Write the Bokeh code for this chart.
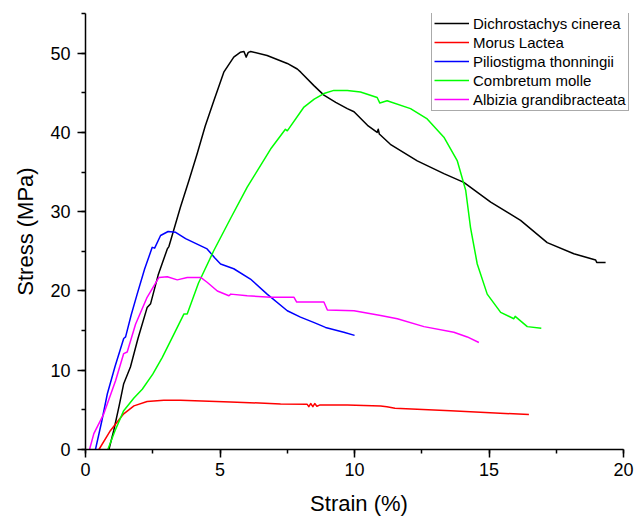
from bokeh.plotting import figure
from bokeh.models import Range1d, SingleIntervalTicker, Legend, LegendItem
from bokeh.embed import file_html
from bokeh.resources import INLINE

# Dichrostachys cinerea (black)
dc_strain = [0.87, 1.05, 1.25, 1.42, 1.67, 1.95, 2.29, 2.42, 2.70, 3.04, 3.10, 3.53, 3.85, 4.15, 4.45, 4.77,
             5.14, 5.51, 5.75, 5.89, 5.97, 6.05, 6.14, 6.75, 7.50, 7.87, 8.00, 8.49, 8.86, 9.30, 9.73, 9.98,
             10.48, 10.84, 10.88, 10.92, 11.33, 12.33, 13.32, 14.06, 15.06, 16.17, 17.16, 18.15, 18.96, 19.00, 19.33]
dc_stress = [0.0, 2.4, 5.5, 8.3, 10.4, 14.0, 17.9, 18.4, 22.0, 25.3, 25.6, 30.6, 34.0, 37.3, 40.8, 44.0,
             47.6, 49.5, 50.1, 50.2, 49.5, 50.1, 50.2, 49.7, 48.7, 48.0, 47.6, 45.9, 44.7, 43.8, 43.0, 42.6,
             40.9, 40.0, 40.4, 39.8, 38.5, 36.4, 34.8, 33.7, 31.2, 28.9, 26.1, 24.7, 23.9, 23.6, 23.6]

# Morus Lactea (red)
ml_strain = [0.50, 0.93, 1.42, 1.80, 2.29, 2.91, 3.53, 5.39, 7.25, 8.24, 8.30, 8.37, 8.45, 8.52, 8.60, 8.70,
             9.73, 10.97, 11.20, 11.50, 13.57, 16.48]
ml_stress = [0.0, 2.4, 4.5, 5.5, 6.05, 6.2, 6.2, 6.0, 5.75, 5.7, 5.4, 5.8, 5.4, 5.8, 5.45, 5.6,
             5.6, 5.5, 5.4, 5.2, 4.9, 4.4]

# Piliostigma thonningii (blue)
pt_strain = [0.37, 0.60, 0.81, 1.10, 1.42, 1.49, 1.70, 1.92, 2.20, 2.48, 2.57, 2.79, 3.07, 3.35, 3.72, 4.09,
             4.52, 4.80, 5.02, 5.51, 6.13, 6.75, 7.50, 7.99, 8.50, 8.92, 9.60, 10.00]
pt_stress = [0.0, 3.5, 7.0, 10.5, 14.0, 14.2, 17.0, 19.6, 22.8, 25.5, 25.4, 27.0, 27.5, 27.4, 26.6, 26.0,
             25.3, 24.2, 23.4, 22.8, 21.5, 19.6, 17.5, 16.7, 16.0, 15.4, 14.8, 14.4]

# Combretum molle (green)
cm_strain = [0.83, 1.10, 1.42, 1.80, 2.11, 2.50, 2.85, 3.25, 3.66, 3.78, 4.20, 4.77, 5.40, 6.01, 6.88, 7.43,
             7.50, 8.12, 8.50, 8.86, 9.23, 9.73, 10.22, 10.84, 10.94, 11.21, 12.08, 12.70, 13.32, 13.82,
             14.13, 14.31, 14.56, 14.93, 15.43, 15.92, 15.97, 16.42, 16.94]
cm_stress = [0.0, 2.4, 4.9, 6.5, 7.6, 9.5, 11.6, 14.3, 17.1, 17.1, 21.0, 25.1, 29.2, 33.1, 37.9, 40.4,
             40.2, 43.2, 44.2, 44.9, 45.3, 45.3, 45.1, 44.4, 43.7, 44.0, 43.0, 41.7, 39.4, 36.4,
             32.7, 28.0, 23.4, 19.6, 17.3, 16.5, 16.8, 15.5, 15.3]

# Albizia grandibracteata (magenta)
ag_strain = [0.15, 0.31, 0.68, 1.12, 1.42, 1.55, 1.86, 2.29, 2.73, 3.04, 3.41, 3.78, 4.28, 4.52, 4.90, 5.33,
             5.40, 6.01, 6.88, 7.75, 7.85, 8.86, 8.99, 9.98, 10.97, 11.59, 12.58, 13.69, 14.19, 14.62]
ag_stress = [0.0, 2.0, 4.5, 8.7, 12.1, 12.3, 15.8, 19.2, 21.7, 21.8, 21.4, 21.7, 21.7, 21.1, 20.0, 19.4,
             19.6, 19.4, 19.2, 19.2, 18.6, 18.6, 17.6, 17.5, 16.9, 16.5, 15.5, 14.8, 14.2, 13.5]

series_names = ["Dichrostachys cinerea", "Morus Lactea", "Piliostigma thonningii",
                "Combretum molle", "Albizia grandibracteata"]
series_colors = ["#000000", "#FF0000", "#0000FF", "#00FF00", "#FF00FF"]

FONT = "Liberation Sans"

p = figure(width=640, height=518, output_backend="svg", toolbar_location=None,
           x_range=Range1d(0, 20.33), y_range=Range1d(0, 55),
           min_border_left=85, min_border_right=8, min_border_top=13, min_border_bottom=69,
           x_axis_label="Strain (%)", y_axis_label="Stress (MPa)")
p.xgrid.visible = False
p.ygrid.visible = False
p.outline_line_color = None
p.background_fill_color = "white"
p.border_fill_color = "white"

p.xaxis.ticker = SingleIntervalTicker(interval=5, num_minor_ticks=2)
p.yaxis.ticker = SingleIntervalTicker(interval=10, num_minor_ticks=2)
p.xaxis.bounds = (0, 20)

for ax in (p.xaxis[0], p.yaxis[0]):
    ax.axis_line_color = "black"
    ax.axis_line_width = 1.5
    ax.major_tick_line_color = "black"
    ax.major_tick_line_width = 1.5
    ax.minor_tick_line_color = "black"
    ax.minor_tick_line_width = 1.5
    ax.major_tick_in = 0
    ax.major_tick_out = 8
    ax.minor_tick_in = 0
    ax.minor_tick_out = 4
    ax.major_label_text_font = FONT
    ax.major_label_text_font_size = "18px"
    ax.major_label_text_color = "black"
    ax.axis_label_text_font = FONT
    ax.axis_label_text_font_size = "22px"
    ax.axis_label_text_font_style = "normal"
    ax.axis_label_text_color = "black"

p.xaxis[0].major_label_standoff = 5
p.xaxis[0].axis_label_standoff = 12
p.yaxis[0].major_label_standoff = 7
p.yaxis[0].axis_label_standoff = 9

data = [(dc_strain, dc_stress), (ml_strain, ml_stress), (pt_strain, pt_stress),
        (cm_strain, cm_stress), (ag_strain, ag_stress)]
items = []
for (xs, ys), name, col in zip(data, series_names, series_colors):
    r = p.line(xs, ys, line_color=col, line_width=1.5, line_join="round")
    items.append(LegendItem(label=name, renderers=[r]))

legend = Legend(items=items, location=(346, 338), orientation="vertical",
                label_text_font=FONT, label_text_font_size="15px", label_text_color="black",
                glyph_width=35, glyph_height=18, label_height=18, label_standoff=4,
                spacing=1, padding=2, margin=0,
                border_line_color="#555555", border_line_width=1.5,
                background_fill_color="white", background_fill_alpha=1.0)
p.add_layout(legend)

open("out.html", "w").write(file_html(p, INLINE))
